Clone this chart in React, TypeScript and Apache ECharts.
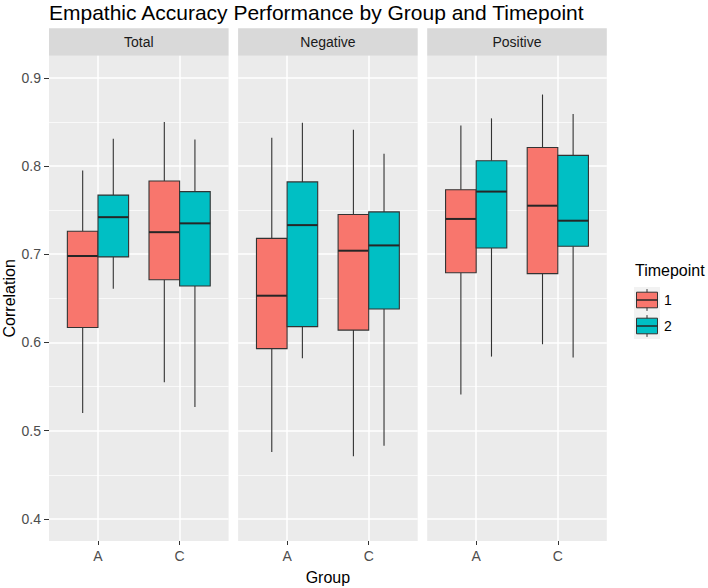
import React, { useEffect, useRef } from "react";
import * as echarts from "echarts";

const panels = ["Total", "Negative", "Positive"];
const groups = ["A", "C"];
const timepoints = ["1", "2"];
const fillColors = ["#F8766D", "#00BFC4"];
const yTicks = [0.4, 0.5, 0.6, 0.7, 0.8, 0.9];
const yMinorTicks = [0.45, 0.55, 0.65, 0.75, 0.85];

// [lower whisker, Q1, median, Q3, upper whisker] for groups A and C
const totalT1 = [[0.520, 0.617, 0.698, 0.726, 0.795], [0.555, 0.671, 0.725, 0.783, 0.850]];
const totalT2 = [[0.661, 0.697, 0.742, 0.767, 0.831], [0.527, 0.664, 0.735, 0.771, 0.830]];
const negativeT1 = [[0.476, 0.593, 0.653, 0.718, 0.832], [0.471, 0.614, 0.704, 0.745, 0.841]];
const negativeT2 = [[0.582, 0.618, 0.733, 0.782, 0.849], [0.483, 0.638, 0.710, 0.748, 0.814]];
const positiveT1 = [[0.541, 0.679, 0.740, 0.773, 0.846], [0.598, 0.678, 0.755, 0.821, 0.881]];
const positiveT2 = [[0.584, 0.707, 0.771, 0.806, 0.854], [0.583, 0.709, 0.738, 0.812, 0.859]];

const panelData = [
  [totalT1, totalT2],
  [negativeT1, negativeT2],
  [positiveT1, positiveT2],
];

const FONT = "'Liberation Sans', Arial, Helvetica, sans-serif";
const PANEL_LEFT = [49, 238.1, 427.2];
const PANEL_W = 179.6;
const PANEL_TOP = 55.7;
const PANEL_H = 485.3;
const STRIP_TOP = 28.3;
const BOX_W = 0.375;
const DODGE = 0.1875;

export default function App() {
  const ref = useRef<HTMLDivElement>(null);

  useEffect(() => {
    if (!ref.current) return;
    const chart = echarts.init(ref.current, null, { renderer: "svg" });

    const renderItem = (color: string) => (params: any, api: any) => {
      const x = api.value(0);
      const lo = api.coord([x, api.value(1)]);
      const q1 = api.coord([x, api.value(2)]);
      const med = api.coord([x, api.value(3)]);
      const q3 = api.coord([x, api.value(4)]);
      const hi = api.coord([x, api.value(5)]);
      const half = api.size([BOX_W, 0])[0] / 2;
      const cx = lo[0];
      const stroke = "#333333";
      return {
        type: "group",
        children: [
          { type: "line", shape: { x1: cx, y1: hi[1], x2: cx, y2: q3[1] }, style: { stroke, lineWidth: 1.1 } },
          { type: "line", shape: { x1: cx, y1: q1[1], x2: cx, y2: lo[1] }, style: { stroke, lineWidth: 1.1 } },
          {
            type: "rect",
            shape: { x: cx - half, y: q3[1], width: 2 * half, height: q1[1] - q3[1] },
            style: { fill: color, stroke, lineWidth: 1.1 },
          },
          {
            type: "line",
            shape: { x1: cx - half, y1: med[1], x2: cx + half, y2: med[1] },
            style: { stroke: "#262626", lineWidth: 2 },
          },
        ],
      };
    };

    const grids = panels.map((_, i) => ({
      left: PANEL_LEFT[i],
      top: PANEL_TOP,
      width: PANEL_W,
      height: PANEL_H,
      show: true,
      backgroundColor: "#EBEBEB",
      borderWidth: 0,
    }));

    const xAxes = panels.map((_, i) => ({
      type: "value",
      gridIndex: i,
      min: 0.4,
      max: 2.6,
      axisLine: { show: false },
      axisTick: { show: true, customValues: [1, 2], length: 4, lineStyle: { color: "#333333" } },
      axisLabel: {
        customValues: [1, 2],
        formatter: (v: number) => groups[Math.round(v) - 1],
        color: "#4D4D4D",
        fontSize: 14,
        margin: 8,
        fontFamily: FONT,
      },
      splitLine: { show: true, lineStyle: { color: "#FFFFFF", width: 1.5 } },
    }));

    const yMajor = panels.map((_, i) => ({
      type: "value",
      gridIndex: i,
      min: 0.375,
      max: 0.925,
      position: "left",
      axisLine: { show: false },
      axisTick: { show: i === 0, customValues: yTicks, length: 5, lineStyle: { color: "#333333" } },
      axisLabel: {
        show: i === 0,
        customValues: yTicks,
        formatter: (v: number) => v.toFixed(1),
        color: "#4D4D4D",
        fontSize: 14,
        margin: 8,
        fontFamily: FONT,
      },
      splitLine: { show: true, lineStyle: { color: "#FFFFFF", width: 1.5 } },
    }));

    const yMinor = panels.map((_, i) => ({
      type: "value",
      gridIndex: i,
      min: 0.375,
      max: 0.925,
      position: "left",
      axisLine: { show: false },
      axisTick: { show: false, customValues: yMinorTicks },
      axisLabel: { show: false, customValues: yMinorTicks },
      splitLine: { show: true, lineStyle: { color: "#FFFFFF", width: 0.7 } },
    }));

    const series: any[] = [];
    panels.forEach((_, i) => {
      timepoints.forEach((tp, t) => {
        const stats = panelData[i][t];
        series.push({
          type: "custom",
          name: tp,
          xAxisIndex: i,
          yAxisIndex: i,
          renderItem: renderItem(fillColors[t]),
          encode: { x: 0, y: [1, 2, 3, 4, 5] },
          data: groups.map((g, gi) => [gi + 1 + (t === 0 ? -DODGE : DODGE), ...stats[gi]]),
          z: 10,
        });
      });
    });

    const graphics: any[] = [];
    graphics.push({
      type: "text",
      x: PANEL_LEFT[0],
      y: 12.7,
      style: {
        text: "Empathic Accuracy Performance by Group and Timepoint",
        font: `21px ${FONT}`,
        fill: "#000000",
        align: "left",
        verticalAlign: "middle",
      },
    });
    panels.forEach((p, i) => {
      graphics.push({
        type: "rect",
        shape: { x: PANEL_LEFT[i], y: STRIP_TOP, width: PANEL_W, height: PANEL_TOP - STRIP_TOP },
        style: { fill: "#D9D9D9" },
      });
      graphics.push({
        type: "text",
        x: PANEL_LEFT[i] + PANEL_W / 2,
        y: (STRIP_TOP + PANEL_TOP) / 2,
        style: { text: p, font: `14px ${FONT}`, fill: "#1A1A1A", align: "center", verticalAlign: "middle" },
      });
    });
    graphics.push({
      type: "text",
      x: 9,
      y: PANEL_TOP + PANEL_H / 2,
      rotation: Math.PI / 2,
      style: { text: "Correlation", font: `16px ${FONT}`, fill: "#000000", align: "center", verticalAlign: "middle" },
    });
    graphics.push({
      type: "text",
      x: (PANEL_LEFT[0] + PANEL_LEFT[2] + PANEL_W) / 2,
      y: 577.5,
      style: { text: "Group", font: `16px ${FONT}`, fill: "#000000", align: "center", verticalAlign: "middle" },
    });
    // legend
    graphics.push({
      type: "text",
      x: 635,
      y: 270,
      style: { text: "Timepoint", font: `16px ${FONT}`, fill: "#000000", align: "left", verticalAlign: "middle" },
    });
    const keyX = 634;
    const keyS = 26;
    const keyTops = [287, 313];
    timepoints.forEach((tp, t) => {
      const top = keyTops[t];
      const cx = keyX + keyS / 2;
      graphics.push({ type: "rect", shape: { x: keyX, y: top, width: keyS, height: keyS }, style: { fill: "#F2F2F2" } });
      graphics.push({
        type: "line",
        shape: { x1: cx, y1: top + keyS * 0.08, x2: cx, y2: top + keyS * 0.92 },
        style: { stroke: "#333333", lineWidth: 1 },
      });
      graphics.push({
        type: "rect",
        shape: { x: keyX + 2.5, y: top + keyS * 0.2, width: keyS - 5, height: keyS * 0.6 },
        style: { fill: fillColors[t], stroke: "#333333", lineWidth: 1 },
      });
      graphics.push({
        type: "line",
        shape: { x1: keyX + 2.5, y1: top + keyS / 2, x2: keyX + keyS - 2.5, y2: top + keyS / 2 },
        style: { stroke: "#262626", lineWidth: 1.5 },
      });
      graphics.push({
        type: "text",
        x: 664,
        y: top + keyS / 2,
        style: { text: tp, font: `14px ${FONT}`, fill: "#000000", align: "left", verticalAlign: "middle" },
      });
    });

    chart.setOption({
      animation: false,
      backgroundColor: "#FFFFFF",
      textStyle: { fontFamily: FONT },
      grid: grids,
      xAxis: xAxes,
      yAxis: [...yMajor, ...yMinor],
      series,
      graphic: graphics,
    });

    return () => chart.dispose();
  }, []);

  return (
    <div
      ref={ref}
      style={{ position: "fixed", left: 0, top: 0, width: 708, height: 588 }}
    />
  );
}
